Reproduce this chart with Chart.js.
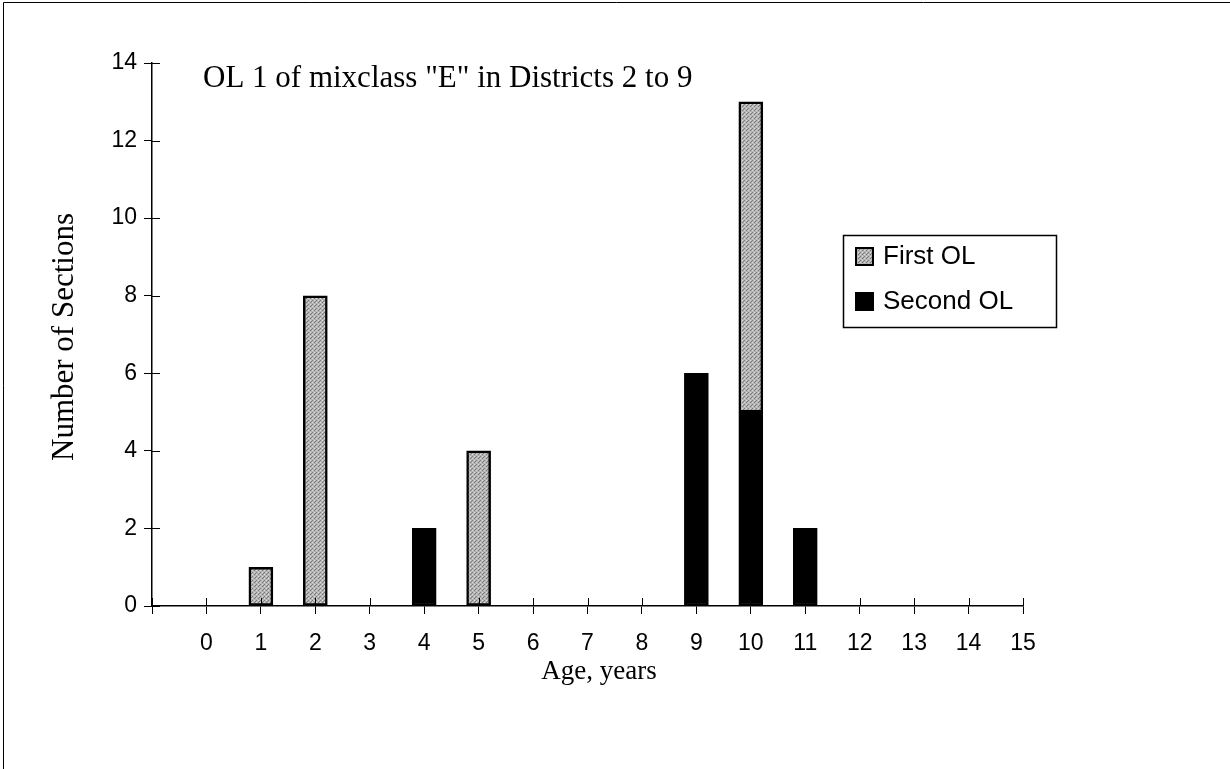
<!DOCTYPE html>
<html>
<head>
<meta charset="utf-8">
<script src="https://cdn.jsdelivr.net/npm/chart.js@4/dist/chart.umd.min.js"></script>
<style>
  html, body { margin: 0; padding: 0; background: #fff; }
  canvas { display: block; }
</style>
</head>
<body>
<canvas id="chart" width="1230" height="769"></canvas>
<script>
// ages on the x axis
const ages = [0, 1, 2, 3, 4, 5, 6, 7, 8, 9, 10, 11, 12, 13, 14, 15];
const firstOL = [0, 1, 8, 0, 0, 4, 0, 0, 0, 0, 8, 0, 0, 0, 0, 0];
const secondOL = [0, 0, 0, 0, 2, 0, 0, 0, 0, 6, 5, 2, 0, 0, 0, 0];
const yTicks = [0, 2, 4, 6, 8, 10, 12, 14];
const titleText = 'OL 1 of mixclass "E" in Districts 2 to 9';

// stippled grey fill like the old print
function makeStipple() {
  const c = document.createElement('canvas');
  c.width = 4; c.height = 4;
  const g = c.getContext('2d');
  g.fillStyle = '#b4b4b4';
  g.fillRect(0, 0, 4, 4);
  g.fillStyle = '#7a7a7a';
  g.fillRect(0, 0, 1, 1);
  g.fillRect(2, 2, 1, 1);
  g.fillRect(3, 1, 1, 1);
  g.fillStyle = '#dcdcdc';
  g.fillRect(2, 0, 1, 1);
  g.fillRect(0, 2, 1, 1);
  return g.createPattern(c, 'repeat');
}
const stipple = makeStipple();

const toPoints = arr => ages.map((a, i) => ({ x: a, y: arr[i] === 0 ? null : arr[i] }));

// axis ticks that cross the axis line, title, axis titles, legend box, frame
const decor = {
  id: 'decor',
  afterDraw(chart) {
    const ctx = chart.ctx;
    const xs = chart.scales.x, ys = chart.scales.y;
    const area = chart.chartArea;
    ctx.save();
    ctx.strokeStyle = '#000';
    ctx.lineWidth = 1;
    ctx.beginPath();
    // frame of the picture
    ctx.moveTo(3.5, 769); ctx.lineTo(3.5, 2.5); ctx.lineTo(1230, 2.5);
    // inner halves of ticks
    xs.ticks.forEach(t => {
      const px = Math.round(xs.getPixelForValue(t.value)) + 0.5;
      ctx.moveTo(px, area.bottom); ctx.lineTo(px, area.bottom - 8);
    });
    ys.ticks.forEach(t => {
      const py = Math.round(ys.getPixelForValue(t.value)) + 0.5;
      ctx.moveTo(area.left, py); ctx.lineTo(area.left + 8, py);
    });
    ctx.stroke();

    ctx.fillStyle = '#000';
    ctx.font = '31px "Liberation Serif"';
    ctx.textBaseline = 'alphabetic';
    ctx.textAlign = 'left';
    ctx.fillText(titleText, 203, 87);

    ctx.font = '27px "Liberation Serif"';
    ctx.textAlign = 'center';
    ctx.fillText('Age, years', 599, 679);
    ctx.font = '31px "Liberation Serif"';
    ctx.save();
    ctx.translate(73, 337);
    ctx.rotate(-Math.PI / 2);
    ctx.fillText('Number of Sections', 0, 0);
    ctx.restore();

    // legend
    ctx.lineWidth = 1.5;
    ctx.strokeRect(843.5, 235.5, 213, 92);
    const items = chart.data.datasets.slice().reverse();
    ctx.font = '26px "Liberation Sans"';
    ctx.textAlign = 'left';
    ctx.textBaseline = 'middle';
    items.forEach((ds, i) => {
      const cy = 256 + i * 45;
      ctx.fillStyle = ds.backgroundColor;
      ctx.fillRect(856, cy - 8, 17, 17);
      ctx.lineWidth = 2;
      ctx.strokeRect(856, cy - 8, 17, 17);
      ctx.fillStyle = '#000';
      ctx.fillText(ds.label, 883, cy + 1);
    });
    ctx.restore();
  }
};

new Chart(document.getElementById('chart'), {
  type: 'bar',
  data: {
    datasets: [
      {
        label: 'Second OL',
        data: toPoints(secondOL),
        backgroundColor: '#000',
        borderColor: '#000',
        borderWidth: 2,
        borderSkipped: false,
        barThickness: 24
      },
      {
        label: 'First OL',
        data: toPoints(firstOL),
        backgroundColor: stipple,
        borderColor: '#000',
        borderWidth: 2.5,
        borderSkipped: false,
        barThickness: 24
      }
    ]
  },
  options: {
    responsive: false,
    animation: false,
    devicePixelRatio: 1,
    layout: { padding: { top: 63, right: 207, left: 0, bottom: 0 } },
    plugins: {
      legend: { display: false },
      tooltip: { enabled: false }
    },
    scales: {
      x: {
        type: 'linear',
        stacked: true,
        offset: false,
        min: -1,
        max: 15,
        afterFit: s => { s.height = 163; },
        grid: { drawOnChartArea: false, tickLength: 8, color: '#000', offset: false },
        border: { color: '#000', width: 1.5 },
        ticks: {
          stepSize: 1,
          autoSkip: false,
          maxRotation: 0,
          padding: 16,
          color: '#000',
          font: { family: '"Liberation Sans"', size: 23 },
          callback: v => (ages.includes(v) ? String(v) : '')
        }
      },
      y: {
        stacked: true,
        min: 0,
        max: 14,
        afterFit: s => { s.width = 152; },
        afterBuildTicks: s => { s.ticks = yTicks.map(v => ({ value: v })); },
        grid: { drawOnChartArea: false, tickLength: 8, color: '#000' },
        border: { color: '#000', width: 1.5 },
        ticks: {
          padding: 7,
          color: '#000',
          font: { family: '"Liberation Sans"', size: 23 }
        }
      }
    }
  },
  plugins: [decor]
});
</script>
</body>
</html>
